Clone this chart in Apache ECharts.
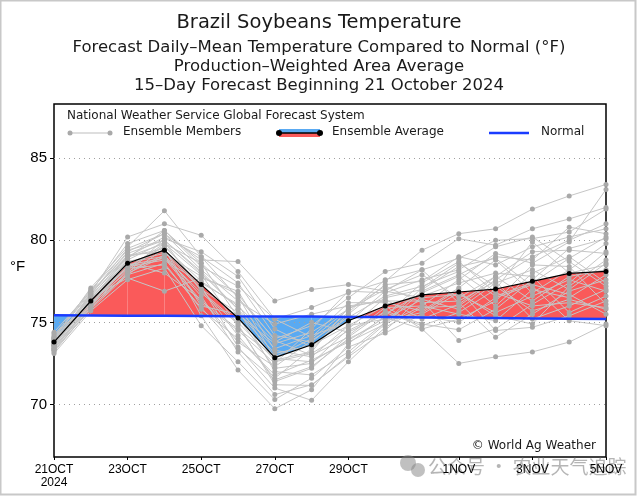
<!DOCTYPE html>
<html>
<head>
<meta charset="utf-8">
<script src="https://cdn.jsdelivr.net/npm/echarts@6/dist/echarts.min.js"></script>
<style>html,body{margin:0;padding:0;background:#fff}#c{width:638px;height:496px}</style>
</head>
<body>
<div id="c"></div>
<script>
const dates = ['21OCT','22OCT','23OCT','24OCT','25OCT','26OCT','27OCT','28OCT','29OCT','30OCT','31OCT','1NOV','2NOV','3NOV','4NOV','5NOV'];
const shownLabels = ['21OCT','23OCT','25OCT','27OCT','29OCT','1NOV','3NOV','5NOV'];
const yTicks = [70, 75, 80, 85];
const normal = [75.43,75.42,75.41,75.40,75.39,75.37,75.36,75.35,75.33,75.32,75.30,75.28,75.26,75.24,75.22,75.20];
const ensAvg = [73.8,76.3,78.6,79.4,77.3,75.27,72.85,73.64,75.1,76.0,76.67,76.85,77.03,77.5,77.98,78.1];

const m01 = [73.6,76.8,80.2,81.0,80.3,78.1,75.2,75.9,76.8,77.5,79.4,80.4,80.7,81.9,82.7,83.4];
const m02 = [74.0,77.1,79.6,81.8,79.0,76.5,74.0,74.8,76.5,78.1,78.6,80.1,79.7,80.7,81.3,82.0];
const m03 = [73.9,76.7,79.3,80.4,78.8,78.7,76.3,77.0,77.3,76.9,78.2,78.9,80.0,80.1,80.5,81.9];
const m04 = [73.2,75.9,78.0,80.1,79.3,77.8,74.6,73.5,75.5,77.3,77.5,79.0,78.5,79.6,80.2,80.7];
const m05 = [74.3,76.2,78.3,79.8,77.9,74.8,71.4,72.2,74.2,75.9,76.0,77.6,79.2,78.6,79.9,83.1];
const m06 = [73.7,76.4,79.0,79.5,76.0,75.5,73.7,74.4,75.8,77.0,77.9,76.5,77.8,79.3,79.4,79.2];
const m07 = [73.4,76.0,78.6,78.0,76.4,73.8,72.3,73.9,75.3,76.6,77.2,78.1,76.6,77.4,78.9,80.2];
const m08 = [73.8,76.5,77.7,76.9,77.7,76.9,73.3,72.9,74.8,75.2,76.4,75.8,77.4,78.2,77.0,78.6];
const m09 = [74.1,76.9,79.8,80.6,78.4,77.2,75.2,74.1,76.2,76.2,75.7,77.1,78.8,76.8,78.2,79.8];
const m10 = [73.5,76.1,78.4,79.6,77.5,76.0,73.8,75.0,74.4,75.5,76.8,77.8,76.0,78.0,79.0,77.4];
const m11 = [73.9,76.3,78.8,79.9,76.9,75.0,72.7,73.2,75.9,76.4,75.2,76.1,77.8,76.3,77.8,78.2];
const m12 = [73.3,75.8,77.9,78.6,75.8,74.0,71.8,72.7,73.8,74.9,76.0,75.5,75.1,77.0,76.5,77.9];
const m13 = [74.2,77.0,79.4,80.0,78.0,75.8,72.0,71.8,73.2,75.0,77.1,78.6,77.2,75.7,76.4,75.8];
const m14 = [73.6,76.2,78.1,79.1,76.6,73.2,70.6,71.2,72.9,74.5,76.6,77.4,78.0,77.8,75.6,76.6];
const m15 = [73.8,76.6,79.1,79.3,77.0,75.6,73.1,73.6,74.8,76.0,74.6,75.2,76.3,78.5,78.4,76.1];
const m16 = [73.1,75.7,77.6,78.3,74.8,72.6,70.3,71.6,73.5,74.35,75.5,76.8,75.4,74.9,77.2,78.8];
const m17 = [74.4,76.9,79.0,80.2,79.0,77.4,74.2,73.8,75.6,77.6,78.2,76.2,74.1,75.5,76.9,77.6];
const m18 = [73.7,76.3,78.5,78.9,76.2,74.5,72.5,74.6,76.9,76.8,77.6,78.2,79.6,80.2,78.7,77.2];
const m19 = [73.4,76.0,78.2,79.7,77.2,73.5,71.0,70.25,72.6,74.7,75.9,76.0,77.6,79.0,80.0,81.0];
const m20 = [74.0,76.5,78.7,79.2,77.8,76.7,73.9,73.0,74.1,75.7,74.9,74.55,75.8,77.6,79.5,80.1];
const m21 = [73.6,76.4,78.9,80.6,78.6,75.3,72.2,72.5,74.6,76.5,77.0,78.4,78.9,77.2,75.1,74.8];
const m22 = [73.5,76.1,78.6,79.4,77.1,74.2,71.6,73.4,75.4,75.3,74.6,72.5,72.9,73.2,73.8,74.9];
const m23 = [73.9,76.7,79.5,80.4,78.2,76.3,74.9,75.5,76.0,76.3,76.3,73.9,74.6,76.1,77.4,79.3];
const m24 = [73.3,75.9,78.0,79.0,76.8,74.9,71.2,71.16,73.0,74.9,76.9,77.9,79.0,78.8,80.8,80.4];
const m25 = [73.7,76.2,78.4,78.8,77.4,76.1,72.6,73.1,74.5,75.6,74.8,75.6,77.0,79.9,78.0,78.5];
const m26 = [74.1,76.8,79.2,80.0,78.1,75.8,73.4,74.2,75.0,76.9,76.5,76.7,75.6,76.6,77.6,76.9];
const m27 = [73.4,76.1,77.9,79.5,75.4,72.1,69.74,70.9,73.7,75.4,77.4,78.7,76.8,76.0,76.2,75.9];
const m28 = [73.8,76.5,78.7,79.0,76.3,74.6,72.9,74.0,75.8,77.2,76.2,76.3,77.5,75.2,76.0,77.0];
const m29 = [73.6,76.3,78.3,78.5,75.9,73.4,71.5,72.3,74.0,75.1,75.6,77.0,74.5,74.7,75.4,76.3];
const m30 = [74.0,76.6,79.0,79.8,78.6,76.6,72.8,72.6,73.9,75.3,75.4,75.0,76.5,77.3,76.7,75.5];
const members = [m01,m02,m03,m04,m05,m06,m07,m08,m09,m10,m11,m12,m13,m14,m15,m16,m17,m18,m19,m20,m21,m22,m23,m24,m25,m26,m27,m28,m29,m30];

const RED = '#fa5a5a', BLUE = '#5aaaf2', NORMAL = '#1a3cff';
const FONT = 'DejaVu Sans';
const chart = echarts.init(document.getElementById('c'), null, {renderer: 'canvas'});

const memberSeries = members.map((m, k) => ({
  type: 'line', name: 'Ensemble Members', data: m, z: 3, silent: true,
  symbol: 'circle', symbolSize: 5, showAllSymbol: true,
  lineStyle: {color: '#c6c6c6', width: 1},
  itemStyle: {color: '#a9a9a9'}
}));

const fillSeries = {
  type: 'custom', z: 2, silent: true,
  data: dates.slice(0, -1).map((d, i) => [i, ensAvg[i]]),
  renderItem: function (params, api) {
    const i = params.dataIndex;
    const a0 = api.coord([i, ensAvg[i]]), a1 = api.coord([i + 1, ensAvg[i + 1]]);
    const n0 = api.coord([i, normal[i]]), n1 = api.coord([i + 1, normal[i + 1]]);
    const d0 = ensAvg[i] - normal[i], d1 = ensAvg[i + 1] - normal[i + 1];
    const children = [];
    if (d0 * d1 >= 0) {
      children.push({type: 'polygon', shape: {points: [a0, a1, n1, n0]},
        style: {fill: (d0 + d1) >= 0 ? RED : BLUE, stroke: null}});
    } else {
      const t = d0 / (d0 - d1);
      const px = [a0[0] + t * (a1[0] - a0[0]), a0[1] + t * (a1[1] - a0[1])];
      children.push({type: 'polygon', shape: {points: [a0, px, n0]}, style: {fill: d0 > 0 ? RED : BLUE}});
      children.push({type: 'polygon', shape: {points: [px, a1, n1]}, style: {fill: d1 > 0 ? RED : BLUE}});
    }
    return {type: 'group', children: children};
  }
};

const gridSeries = {
  type: 'line', data: [], silent: true, z: 1,
  markLine: {
    silent: true, symbol: 'none', label: {show: false},
    lineStyle: {color: '#a0a0a0', type: [1, 4], width: 1},
    data: yTicks.map(v => ({yAxis: v}))
  }
};

const option = {
  animation: false,
  backgroundColor: '#fff',
  title: [
    {text: 'Brazil Soybeans Temperature', left: 'center', top: 8,
     textStyle: {fontFamily: FONT, fontSize: 19.5, fontWeight: 'normal', color: '#1a1a1a'}},
    {text: 'Forecast Daily\u2013Mean Temperature Compared to Normal (\u00b0F)', left: 'center', top: 34,
     textStyle: {fontFamily: FONT, fontSize: 16.5, fontWeight: 'normal', color: '#1a1a1a'}},
    {text: 'Production\u2013Weighted Area Average', left: 'center', top: 53,
     textStyle: {fontFamily: FONT, fontSize: 16.5, fontWeight: 'normal', color: '#1a1a1a'}},
    {text: '15\u2013Day Forecast Beginning 21 October 2024', left: 'center', top: 72,
     textStyle: {fontFamily: FONT, fontSize: 16.5, fontWeight: 'normal', color: '#1a1a1a'}}
  ],
  grid: {left: 54, right: 32, top: 104, bottom: 39, show: true, borderColor: '#000', borderWidth: 1.5, backgroundColor: '#fff'},
  xAxis: {
    type: 'category', data: dates, boundaryGap: false,
    axisLine: {show: false},
    axisTick: {show: true, length: 3, lineStyle: {color: '#000'}, interval: (i, v) => shownLabels.includes(v)},
    axisLabel: {interval: (i, v) => shownLabels.includes(v), margin: 6, color: '#000', fontFamily: 'Liberation Sans', fontSize: 12,
      formatter: (v, i) => i === 0 ? v + '\n2024' : v, lineHeight: 13},
    splitLine: {show: false}
  },
  yAxis: {
    type: 'value', min: 66.8, max: 88.3,
    axisLine: {show: false},
    axisTick: {show: true, length: 4, customValues: yTicks, lineStyle: {color: '#000'}},
    axisLabel: {customValues: yTicks, margin: 7, color: '#000', fontFamily: 'Liberation Sans', fontSize: 15},
    splitLine: {show: false}
  },
  series: [gridSeries, fillSeries].concat(memberSeries).concat([
    {type: 'line', name: 'Normal', data: normal, z: 5, silent: true, symbol: 'none',
     lineStyle: {color: NORMAL, width: 2.5}},
    {type: 'line', name: 'Ensemble Average', data: ensAvg, z: 6, silent: true,
     symbol: 'circle', symbolSize: 5, showAllSymbol: true,
     lineStyle: {color: '#000', width: 1.2}, itemStyle: {color: '#000'}}
  ]),
  graphic: [
    {type: 'rect', shape: {x: 0.5, y: 0.5, width: 635, height: 494}, style: {fill: null, stroke: '#c8c8c8', lineWidth: 2}, z: 100, silent: true},
    {type: 'text', x: 10, y: 267, style: {text: '\u00b0F', fontFamily: 'Liberation Sans', fontSize: 15, fill: '#000', verticalAlign: 'middle'}, z: 50},
    {type: 'text', left: 67, top: 110, style: {text: 'National Weather Service Global Forecast System', fontFamily: FONT, fontSize: 12, fill: '#1a1a1a'}, z: 50},
    {type: 'group', z: 50, children: [
      {type: 'line', shape: {x1: 70, y1: 133, x2: 110, y2: 133}, style: {stroke: '#bdbdbd', lineWidth: 1}},
      {type: 'circle', shape: {cx: 70, cy: 133, r: 2.5}, style: {fill: '#a9a9a9'}},
      {type: 'circle', shape: {cx: 110, cy: 133, r: 2.5}, style: {fill: '#a9a9a9'}},
      {type: 'text', x: 123, y: 126, style: {text: 'Ensemble Members', fontFamily: FONT, fontSize: 12, fill: '#1a1a1a'}},
      {type: 'rect', shape: {x: 279, y: 129, width: 41, height: 4}, style: {fill: BLUE}},
      {type: 'rect', shape: {x: 279, y: 133, width: 41, height: 4}, style: {fill: RED}},
      {type: 'line', shape: {x1: 279, y1: 133, x2: 320, y2: 133}, style: {stroke: '#000', lineWidth: 1.5}},
      {type: 'circle', shape: {cx: 279, cy: 133, r: 3}, style: {fill: '#000'}},
      {type: 'circle', shape: {cx: 320, cy: 133, r: 3}, style: {fill: '#000'}},
      {type: 'text', x: 332, y: 126, style: {text: 'Ensemble Average', fontFamily: FONT, fontSize: 12, fill: '#1a1a1a'}},
      {type: 'line', shape: {x1: 489, y1: 133, x2: 529, y2: 133}, style: {stroke: NORMAL, lineWidth: 2.5}},
      {type: 'text', x: 541, y: 126, style: {text: 'Normal', fontFamily: FONT, fontSize: 12, fill: '#1a1a1a'}}
    ]},
    {type: 'text', x: 596, y: 440, style: {text: '\u00a9 World Ag Weather', align: 'right', fontFamily: FONT, fontSize: 12, fill: '#1a1a1a'}, z: 50},
    {type: 'group', z: 60, silent: true, children: [
      {type: 'circle', shape: {cx: 408, cy: 463, r: 8}, style: {fill: 'rgba(130,130,130,0.5)'}},
      {type: 'circle', shape: {cx: 418, cy: 470, r: 7}, style: {fill: 'rgba(130,130,130,0.5)'}},
      {type: 'text', x: 428, y: 457, style: {text: '\u516c\u4f17\u53f7 \u00b7 \u519c\u4e1a\u5929\u6c14\u8ffd\u8e2a', fontFamily: 'Noto Sans CJK SC', fontSize: 19, fill: 'rgba(120,120,120,0.55)'}}
    ]}
  ]
};
chart.setOption(option);
</script>
</body>
</html>
